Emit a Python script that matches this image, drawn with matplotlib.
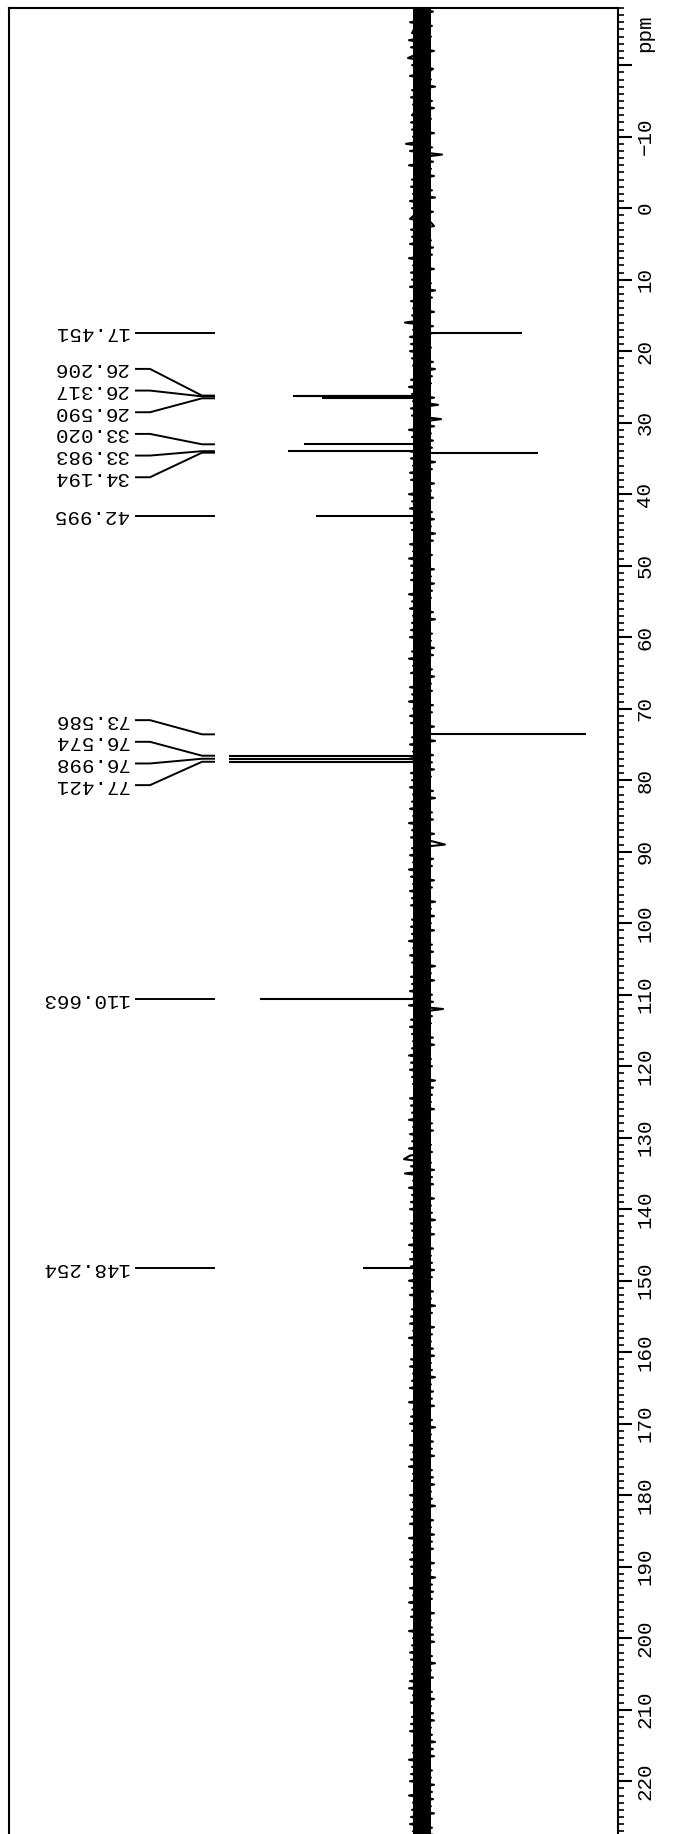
import numpy as np
import matplotlib.pyplot as plt
from matplotlib.transforms import blended_transform_factory

plt.rcParams['font.family'] = ['Liberation Mono', 'DejaVu Sans']

# picked peaks (ppm) and their heights (positive = drawn to the left)
peak_ppm = [17.451, 26.206, 26.317, 26.590, 33.020, 33.983, 34.194,
            42.995, 73.586, 76.574, 76.998, 77.421, 110.663, 148.254]
peak_int = [-100, 129, 125, 100, 118, 134, -116,
            106, -164, 193, 193, 193, 162, 59]

# baseline noise, two samples per ppm from -28 to 227.5
noise_ppm = np.arange(-28, 228, 0.5)
noise = [
    9, -11, 7, -6, 12, -10, 8, 10, -9, 13, -7, 11, -12, 6, 14, -8, 10, -11, -6, 12, -9, 8, -13, 10, -7, 11, -10, 9, -12, 7, 10, -9,
    11, -8, 10, -12, 9, -7, 16, -10, 12, -20, 8, -11, 13, -9, 7, -12, 10, -8, 11, -10, 9, -13, 12, -6, 10, -11, 8, 12, -9, -12, 11, -7,
    10, -9, 12, -11, 7, -10, 13, -8, 9, -12, 11, -7, 10, -9, 12, -13, 8, -10, 11, -6, 9, -12, 10, -8, 17, -11, 9, -10, 12, -7, 11, -9,
    12, -8, 10, -11, 9, -13, 7, -10, 11, -9, 13, -8, 10, -12, 9, -16, 11, -7, 10, -19, 8, -12, 13, -9, 10, -11, 7, -10, 12, -8, 11, -13,
    9, -10, 12, -7, 11, -12, 8, -9, 13, -11, 10, -8, 12, -10, 7, -12, 11, -9, 10, -13, 8, -11, 12, -7, 9, -10, 13, -8, 11, -12, 10, -9,
    11, -12, 8, -10, 13, -9, 10, -7, 12, -11, 9, -13, 10, -8, 11, -10, 12, -9, 7, -12, 10, -11, 13, -8, 9, -10, 11, -12, 8, -9, 12, -10,
    10, -8, 13, -11, 9, -10, 12, -7, 11, -12, 8, -9, 10, -13, 12, -8, 9, -11, 13, -10, 7, -12, 11, -9, 10, -8, 12, -11, 9, -13, 10, -7,
    12, -10, 9, -11, 13, -8, 10, -12, 11, -9, -23, 10, -7, 12, -11, 9, -10, 13, -8, 11, -12, 9, -10, 12, -7, 10, -13, 11, -9, 8, -12, 10,
    -9, 11, -12, 10, -8, 13, -10, 9, -11, 12, -7, 10, -13, 8, -9, 11, -12, 10, -8, 12, -10, 9, -11, 13, -21, 8, -10, 11, -9, 12, -8, 10,
    -11, 9, -12, 10, -8, 13, -9, 11, -10, 12, -7, 10, -13, 9, -11, 8, -10, 12, -9, 11, -12, 10, -8, 13, -10, 9, -11, 12, -7, 10, -9, 13,
    -10, 12, 18, -9, 11, -12, 17, -10, 9, -11, 13, -8, 10, -12, 11, -9, 12, -10, 8, -13, 11, -9, 10, -12, 9, -8, 13, -11, 10, -9, 12, -10,
    11, -12, 9, -10, 13, -8, 10, -11, 12, -9, 8, -13, 10, -10, 11, -7, 12, -12, 9, -10, 13, -9, 10, -11, 8, -12, 11, -9, 12, -10, 9, -13,
    10, -9, 12, -11, 8, -10, 13, -12, 9, -8, 11, -10, 12, -13, 10, -9, 8, -11, 12, -10, 9, -12, 11, -8, 13, -10, 9, -11, 10, -12, 8, -9,
    12, -10, 9, -13, 11, -8, 10, -11, 12, -9, 8, -12, 13, -10, 9, -11, 10, -8, 12, -12, 11, -9, 10, -13, 8, -10, 12, -11, 9, -10, 13, -8,
    10, -12, 11, -9, 8, -10, 13, -11, 9, -12, 10, -8, 12, -10, 11, -13, 9, -9, 10, -11, 12, -8, 13, -10, 9, -12, 11, -9, 8, -11, 10, -12,
    11, -9, 12, -10, 8, -13, 10, -11, 9, -12, 13, -8, 10, -10, 11, -9, 12, -12, 8, -10, 13, -11, 9, -9, 10, -12, 11, -8, 12, -10, 9, -11,
]

major_ticks = list(range(-20, 221, 10))
minor_ticks = list(range(-28, 230))


def spread(vals, gap):
    # push crowded labels apart, keeping each cluster centred on its peaks
    clusters = [[v] for v in sorted(vals)]
    merged = True
    while merged:
        merged = False
        for i in range(len(clusters) - 1):
            a, b = clusters[i], clusters[i + 1]
            a_end = np.mean(a) + (len(a) - 1) / 2 * gap
            b_start = np.mean(b) - (len(b) - 1) / 2 * gap
            if b_start - a_end < gap:
                clusters[i] = a + b
                del clusters[i + 1]
                merged = True
                break
    out = []
    for c in clusters:
        m, n = np.mean(c), len(c)
        out += [m + (k - (n - 1) / 2) * gap for k in range(n)]
    return out


W, H = 680, 1834
fig = plt.figure(figsize=(W / 100, H / 100), dpi=100)
ax = fig.add_axes([9 / W, 1 - 1850 / H, 609 / W, 1842 / H])
ax.set_xlim(413, -196)
ax.set_ylim(229.62, -27.81)

for s in ['top', 'left', 'right']:
    ax.spines[s].set_linewidth(1.5)
ax.spines['bottom'].set_visible(False)

# spectrum
ax.axvspan(-9, 9, color='black', lw=0)
ax.plot(noise, noise_ppm, color='black', lw=1.5)
ax.hlines(peak_ppm, 0, peak_int, color='black', lw=1.5)

# peak labels with connectors
label_pos = spread(peak_ppm, 3.03)
for p, lp in zip(peak_ppm, label_pos):
    ax.plot([286, 272, 220, 208], [lp, lp, p, p], color='black', lw=1.4)
    ax.text(294, lp, f'{p:.3f}', rotation=180, ha='right', va='center',
            fontsize=15)

# ppm axis on the right
ax.set_xticks([])
ax.yaxis.tick_right()
ax.set_yticks(major_ticks)
ax.set_yticks(minor_ticks, minor=True)
ax.set_yticklabels(['' if t == -20 else f'{t}'.replace('-', '\u2212') for t in major_ticks],
                   rotation=90, va='center', ha='left')
ax.tick_params(axis='y', which='major', length=10, width=1.5, pad=2.5, labelsize=15)
ax.tick_params(axis='y', which='minor', length=4, width=1.2)

tr = blended_transform_factory(ax.transAxes, ax.transData)
ax.text(1.028, -24.5, 'ppm', transform=tr, rotation=90, ha='left', va='center',
        fontsize=15, clip_on=False)

fig.savefig('out.png', dpi=100)
